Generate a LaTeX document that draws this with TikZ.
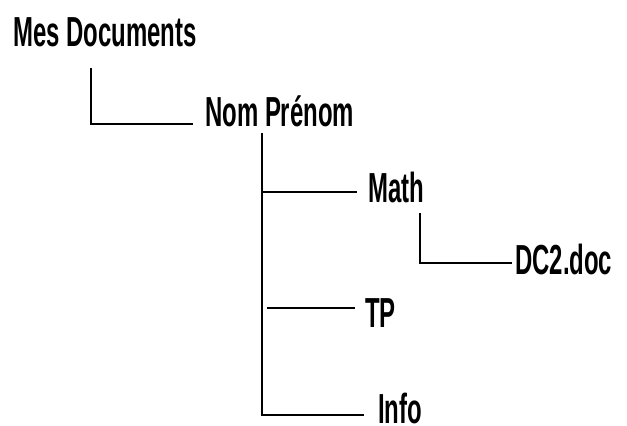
\documentclass[tikz,border=0pt]{standalone}
\usepackage{fontspec}
\newfontfamily\labfont{Liberation Sans}[FakeStretch=0.57]
\begin{document}
\begin{tikzpicture}[x=1pt,y=-1pt,
  lab/.style={anchor=base west,inner sep=0pt,text depth=0pt,font=\labfont\bfseries\fontsize{42}{46}\selectfont},
  conn/.style={line width=1.4pt,line join=miter}]
\useasboundingbox (0,0) rectangle (627,426);
\node[lab] (mes) at (13,46) {Mes Documents};
\node[lab] (nom) at (205,126) {Nom Prénom};
\node[lab] (math) at (368,202) {Math};
\node[lab] (dc) at (515,274) {DC2.doc};
\node[lab] (tp) at (365,327) {TP};
\node[lab] (info) at (378,423) {Info};
% connectors
\coordinate (m1) at (91,68);
\coordinate (m2) at (193,124);
\draw[conn] (m1) |- (m2);
\coordinate (n1) at (262,133);
\coordinate (n2) at (364,415);
\draw[conn] (n1) |- (n2);
\coordinate (a1) at (262,192);
\coordinate (a2) at (357,192);
\draw[conn] (a1) -- (a2);
\coordinate (t1) at (267,308);
\coordinate (t2) at (355,308);
\draw[conn] (t1) -- (t2);
\coordinate (d1) at (420,213);
\coordinate (d2) at (512,263);
\draw[conn] (d1) |- (d2);
\end{tikzpicture}
\end{document}
